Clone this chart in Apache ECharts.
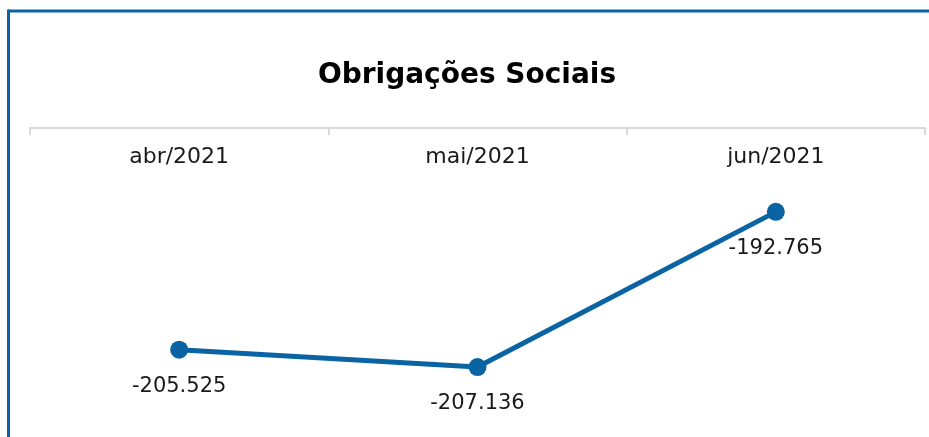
<!DOCTYPE html>
<html lang="pt">
  <head>
    <meta charset="utf-8" />
    <title>Obrigações Sociais</title>
    <script src="https://cdn.jsdelivr.net/npm/echarts@6/dist/echarts.min.js"></script>
  </head>
  <style>
    * {
      margin: 0;
      padding: 0;
    }

    body {
      width: 929px;
      height: 437px;
      background: #fff;
    }

    #main {
      width: 929px;
      height: 437px;
    }
  </style>
  <body>
    <div id="main"></div>
    <script>
      const months = ["abr/2021", "mai/2021", "jun/2021"];
      const values = [-205525, -207136, -192765];

      const chart = echarts.init(document.getElementById("main"));
      const font = "'DejaVu Sans', 'Noto Sans', sans-serif";
      const blue = "#0a64a3";

      function formatValue(v) {
        return v.toLocaleString("pt-BR");
      }

      const option = {
        animation: false,
        title: {
          text: "Obrigações Sociais",
          left: 462,
          top: 57,
          textAlign: "center",
          textStyle: {
            fontFamily: font,
            fontSize: 28,
            fontWeight: "bold",
            color: "#000",
          },
        },
        grid: {
          left: 30,
          right: 4,
          top: 128,
          bottom: 39,
        },
        xAxis: {
          type: "category",
          position: "top",
          data: months,
          boundaryGap: true,
          axisLine: { lineStyle: { color: "#d9d9d9", width: 2 } },
          axisTick: {
            show: true,
            inside: true,
            length: 7,
            lineStyle: { color: "#d9d9d9", width: 2 },
          },
          axisLabel: {
            inside: true,
            margin: 18,
            color: "#1a1a1a",
            fontFamily: font,
            fontSize: 22,
            verticalAlign: "top",
          },
        },
        yAxis: {
          type: "value",
          min: -210000,
          max: -185000,
          show: false,
          splitLine: { show: false },
        },
        series: [
          {
            type: "line",
            data: values,
            symbol: "circle",
            symbolSize: 18,
            lineStyle: { color: blue, width: 5 },
            itemStyle: { color: blue },
            label: {
              show: true,
              position: "bottom",
              distance: 17,
              formatter: (p) => formatValue(p.value),
              color: "#1a1a1a",
              fontFamily: font,
              fontSize: 21,
            },
          },
        ],
        graphic: [
          {
            type: "line",
            shape: { x1: 8.5, y1: 11, x2: 929, y2: 11 },
            style: { stroke: blue, lineWidth: 3 },
          },
          {
            type: "line",
            shape: { x1: 8.5, y1: 9.5, x2: 8.5, y2: 437 },
            style: { stroke: blue, lineWidth: 3 },
          },
        ],
      };

      chart.setOption(option);
    </script>
  </body>
</html>
